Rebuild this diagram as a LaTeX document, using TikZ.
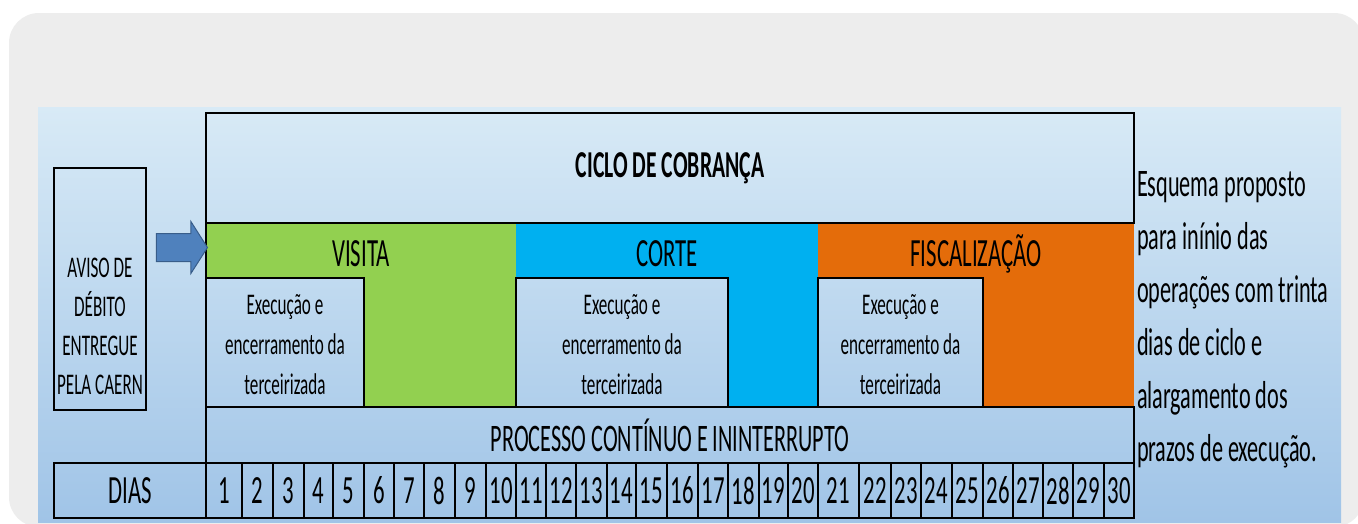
\documentclass[tikz,border=0pt]{standalone}
\usepackage{fontspec}
\setmainfont{Carlito}
\newfontfamily\estreita{Carlito}[FakeStretch=0.57]
\usetikzlibrary{shapes.arrows}
\definecolor{verde}{HTML}{92D050}
\definecolor{ciano}{HTML}{00B0F0}
\definecolor{laranja}{HTML}{E46C0A}
\definecolor{fundo}{HTML}{EDEDED}
\definecolor{painelclaro}{HTML}{D8EAF6}
\definecolor{painelescuro}{HTML}{A0C4E7}
\definecolor{setaazul}{HTML}{4F81BD}
\definecolor{setaborda}{HTML}{385D8A}

\begin{document}
\begin{tikzpicture}[x=1pt,y=-1pt]
        \tikzstyle{every node}=[inner sep=0pt, outer sep=0pt]
        \tikzstyle{caixa}=[draw, line width=2.5pt]
        \tikzstyle{faixa}=[minimum height=55pt, text height=31pt, text depth=0pt, font=\estreita\fontsize{40}{40}\selectfont]
        \tikzstyle{dia}=[draw, line width=1.5pt, minimum height=55pt, font=\estreita\fontsize{40}{40}\selectfont]
        \tikzstyle{texto}=[align=center, font=\estreita\fontsize{30}{40}\selectfont]

% Fundo cinza e painel azul do esquema do ciclo de cobranca.
        \useasboundingbox (0,0) rectangle (1358,523);
        \fill[white] (0,0) rectangle (1358,523);
        \fill[fundo, rounded corners=30pt] (9,13) rectangle (1364,527);
        \shade[top color=painelclaro, bottom color=painelescuro] (38,107) rectangle (1341,522);

        \node[faixa, fill=verde, minimum width=310pt] (visita) at (361,250.5) {VISITA};
        \node[faixa, fill=ciano, minimum width=302pt] (corte) at (667,250.5) {CORTE};
        \node[faixa, fill=laranja, minimum width=316pt] (fiscal) at (976,250.5) {FISCALIZAÇÃO};
        \fill[verde] (364,277) rectangle (516,407);
        \fill[ciano] (728,277) rectangle (818,407);
        \fill[laranja] (983,277) rectangle (1134,407);

        \node[caixa, minimum width=928pt, minimum height=110pt, font=\estreita\bfseries\fontsize{38}{38}\selectfont] (ciclo) at (670,168) {CICLO DE COBRANÇA};
        \draw[line width=2.5pt] (206,113) -- (206,518);

        \node[caixa, minimum width=158pt, minimum height=129pt] (execvisita) at (285,342.5) {};
        \node[caixa, minimum width=212pt, minimum height=129pt] (execcorte) at (622,342.5) {};
        \node[caixa, minimum width=165pt, minimum height=129pt] (execfiscal) at (900.5,342.5) {};
        \node[texto] at ([yshift=-2.5pt]execvisita.center) {Execução e\\encerramento da\\terceirizada};
        \node[texto] at ([yshift=-2.5pt]execcorte.center) {Execução e\\encerramento da\\terceirizada};
        \node[texto] at ([yshift=-2.5pt]execfiscal.center) {Execução e\\encerramento da\\terceirizada};

        \node[caixa, minimum width=928pt, minimum height=56pt, font=\estreita\fontsize{39}{39}\selectfont] (processo) at (670,435) {PROCESSO CONTÍNUO E ININTERRUPTO};

        \node[dia, line width=2.5pt, minimum width=152pt] (dias) at (130,490.5) {DIAS};
        \foreach \n/\a/\b in {1/206/242,2/242/273,3/273/304,4/304/333,5/333/364,6/364/394,7/394/424,8/424/455,9/455/486,10/486/516,11/516/546,12/546/576,13/576/607,14/607/636,15/636/667,16/667/698,17/698/728,18/728/759,19/759/788,20/788/818,21/818/859,22/859/891,23/891/921,24/921/952,25/952/983,26/983/1013,27/1013/1043,28/1043/1073,29/1073/1104,30/1104/1134}
            \node[dia, minimum width={(\b-\a)*1pt}] (d\n) at ({(\a+\b)/2},490.5) {\n};
        \draw[line width=2.5pt] (dias.north west) rectangle (d30.south east);

        \node[caixa, minimum width=92pt, minimum height=242pt] (aviso) at (100,289) {};
        \node[texto, font=\estreita\fontsize{30}{39}\selectfont] at (aviso.center) [yshift=-37pt] {AVISO DE\\DÉBITO\\ENTREGUE\\PELA CAERN};

        \node[single arrow, fill=setaazul, draw=setaborda, line width=1pt, inner ysep=13.5pt, minimum height=51pt, single arrow head extend=12pt, single arrow tip angle=115] (seta) at (177.5,247.5) {};

        \node[align=left, anchor=north west, font=\estreita\fontsize{39}{53}\selectfont] (nota) at (1137,171) {Esquema proposto\\para inínio das\\operações com trinta\\dias de ciclo e\\alargamento dos\\prazos de execução.};

    \end{tikzpicture}
\end{document}
